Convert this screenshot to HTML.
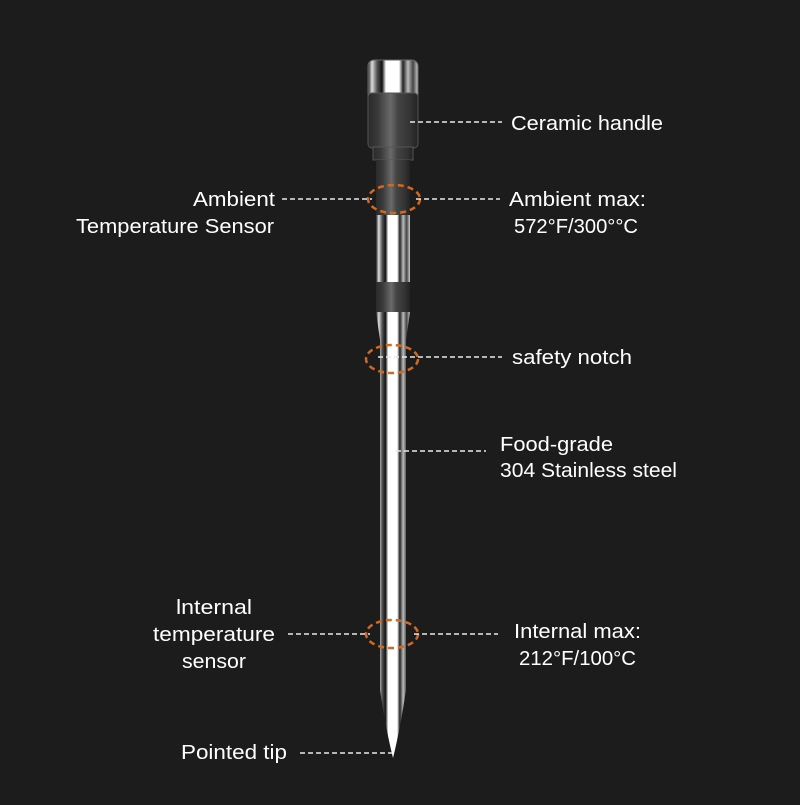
<!DOCTYPE html>
<html><head><style>html,body{margin:0;background:#1c1c1c}</style></head><body>
<svg width="800" height="800" viewBox="0 0 800 800" xmlns="http://www.w3.org/2000/svg">
<defs>
<linearGradient id="ch" x1="0" x2="1" y1="0" y2="0">
<stop offset="0" stop-color="#222"/><stop offset=".08" stop-color="#ddd"/><stop offset=".18" stop-color="#555"/><stop offset=".28" stop-color="#111"/><stop offset=".36" stop-color="#fff"/><stop offset=".62" stop-color="#fff"/><stop offset=".7" stop-color="#222"/><stop offset=".8" stop-color="#bbb"/><stop offset=".9" stop-color="#444"/><stop offset="1" stop-color="#ccc"/>
</linearGradient>
<linearGradient id="dk" x1="0" x2="1" y1="0" y2="0">
<stop offset="0" stop-color="#2a2a2a"/><stop offset=".2" stop-color="#3a3a3a"/><stop offset=".45" stop-color="#6a6a6a"/><stop offset=".6" stop-color="#444"/><stop offset=".85" stop-color="#333"/><stop offset="1" stop-color="#222"/>
</linearGradient>
</defs>
<rect width="800" height="800" fill="#1c1c1c"/>
<rect x="368" y="60" width="50" height="40" rx="6" fill="url(#ch)" stroke="#666" stroke-width="1"/>
<rect x="368" y="93" width="50" height="55" rx="4" fill="url(#dk)" stroke="#555" stroke-width="1"/>
<rect x="373" y="147" width="40" height="13" fill="url(#dk)" stroke="#555" stroke-width="1"/>
<rect x="376" y="160" width="34" height="56" fill="url(#dk)"/>
<rect x="376" y="215" width="34" height="68" fill="url(#ch)"/>
<rect x="376" y="282" width="34" height="30" fill="url(#dk)"/>
<path d="M376 312 L410 312 L406 340 L406 690 Q400 730 393 758 Q386 730 380 690 L380 340 Z" fill="url(#ch)"/>
<g fill="none" stroke="#d2691e" stroke-width="2.5" stroke-dasharray="6 4">
<ellipse cx="394" cy="199" rx="26" ry="14"/>
<ellipse cx="392" cy="359" rx="26" ry="14"/>
<ellipse cx="392" cy="634" rx="26" ry="14"/>
</g>
<g stroke="#e8e8e8" stroke-width="1.4" stroke-dasharray="5 3">
<line x1="410" y1="122" x2="502" y2="122"/>
<line x1="282" y1="199" x2="372" y2="199"/>
<line x1="416" y1="199" x2="500" y2="199"/>
<line x1="378" y1="357" x2="502" y2="357"/>
<line x1="396" y1="451" x2="486" y2="451"/>
<line x1="288" y1="634" x2="370" y2="634"/>
<line x1="414" y1="634" x2="498" y2="634"/>
<line x1="300" y1="753" x2="392" y2="753"/>
</g>
<g fill="#fff" font-family="Liberation Sans, sans-serif" font-size="20">
<text x="511" y="130" textLength="152" lengthAdjust="spacingAndGlyphs">Ceramic handle</text>
<text x="193" y="206" textLength="82" lengthAdjust="spacingAndGlyphs">Ambient</text>
<text x="76" y="233" textLength="198" lengthAdjust="spacingAndGlyphs">Temperature Sensor</text>
<text x="509" y="206" textLength="137" lengthAdjust="spacingAndGlyphs">Ambient max:</text>
<text x="514" y="233" textLength="124" lengthAdjust="spacingAndGlyphs">572°F/300°°C</text>
<text x="512" y="364" textLength="120" lengthAdjust="spacingAndGlyphs">safety notch</text>
<text x="500" y="451" textLength="113" lengthAdjust="spacingAndGlyphs">Food-grade</text>
<text x="500" y="477" textLength="177" lengthAdjust="spacingAndGlyphs">304 Stainless steel</text>
<text x="176" y="614" textLength="76" lengthAdjust="spacingAndGlyphs">lnternal</text>
<text x="153" y="641" textLength="122" lengthAdjust="spacingAndGlyphs">temperature</text>
<text x="182" y="668" textLength="64" lengthAdjust="spacingAndGlyphs">sensor</text>
<text x="514" y="638" textLength="127" lengthAdjust="spacingAndGlyphs">Internal max:</text>
<text x="519" y="665" textLength="117" lengthAdjust="spacingAndGlyphs">212°F/100°C</text>
<text x="181" y="759" textLength="106" lengthAdjust="spacingAndGlyphs">Pointed tip</text>
</g>
</svg>
</body></html>
